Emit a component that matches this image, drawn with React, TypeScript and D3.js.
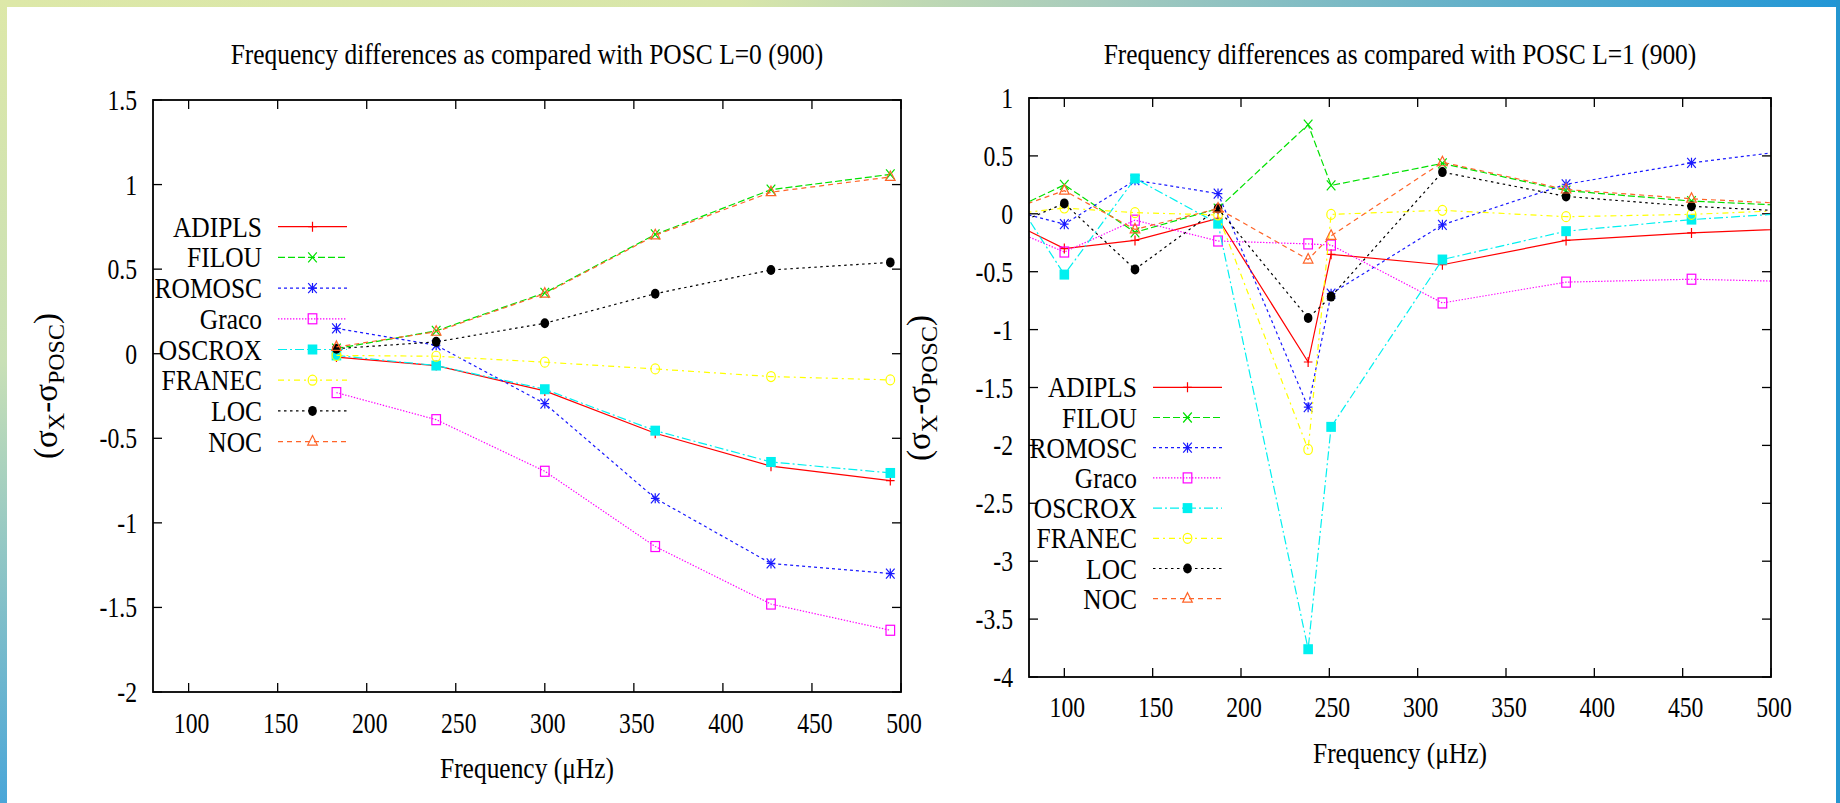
import React from 'react';
import * as d3 from 'd3';

const W = 1840;
const H = 803;

// ---- data ----
const SERIES_NAMES = ['ADIPLS', 'FILOU', 'ROMOSC', 'Graco', 'OSCROX', 'FRANEC', 'LOC', 'NOC'];

// L=0 modes
const FREQ_L0 = [183, 239, 300, 362, 427, 494];
const ADIPLS_L0 = [-0.02, -0.07, -0.22, -0.47, -0.665, -0.75];
const FILOU_L0 = [0.03, 0.135, 0.36, 0.705, 0.97, 1.06];
const ROMOSC_L0 = [0.15, 0.05, -0.295, -0.855, -1.24, -1.3];
const GRACO_L0 = [-0.23, -0.39, -0.695, -1.14, -1.48, -1.635];
const OSCROX_L0 = [-0.01, -0.07, -0.21, -0.455, -0.64, -0.705];
const FRANEC_L0 = [-0.01, -0.015, -0.05, -0.09, -0.135, -0.155];
const LOC_L0 = [0.03, 0.07, 0.18, 0.355, 0.495, 0.54];
const NOC_L0 = [0.04, 0.13, 0.355, 0.7, 0.955, 1.045];

// L=1 modes
const FREQ_L1 = [60, 100, 140, 187, 238, 251, 314, 384, 455, 526];
const ADIPLS_L1 = [0.0, -0.3, -0.23, -0.04, -1.28, -0.35, -0.44, -0.23, -0.165, -0.12];
const FILOU_L1 = [-0.04, 0.25, -0.16, 0.045, 0.77, 0.245, 0.435, 0.2, 0.11, 0.06];
const ROMOSC_L1 = [0.07, -0.09, 0.29, 0.175, -1.67, -0.69, -0.095, 0.255, 0.44, 0.575];
const GRACO_L1 = [-0.07, -0.33, -0.055, -0.235, -0.26, -0.27, -0.77, -0.59, -0.565, -0.59];
const OSCROX_L1 = [0.42, -0.525, 0.305, -0.085, -3.76, -1.84, -0.395, -0.15, -0.05, 0.02];
const FRANEC_L1 = [-0.02, 0.05, 0.01, -0.01, -2.035, -0.005, 0.03, -0.025, -0.005, 0.04];
const LOC_L1 = [-0.17, 0.09, -0.48, 0.045, -0.9, -0.715, 0.36, 0.15, 0.065, 0.01];
const NOC_L1 = [-0.015, 0.2, -0.135, 0.045, -0.395, -0.19, 0.445, 0.21, 0.13, 0.075];

const X_TICKS = [100, 150, 200, 250, 300, 350, 400, 450, 500];
const Y_TICKS_L0 = [-2, -1.5, -1, -0.5, 0, 0.5, 1, 1.5];
const Y_TICKS_L1 = [-4, -3.5, -3, -2.5, -2, -1.5, -1, -0.5, 0, 0.5, 1];

const TITLE_L0 = 'Frequency differences as compared with POSC L=0 (900)';
const TITLE_L1 = 'Frequency differences as compared with POSC L=1 (900)';
const X_LABEL = 'Frequency (\u03bcHz)';

// ---- styles per series ----
type MarkerKind = 'plus' | 'cross' | 'star' | 'square' | 'fsquare' | 'circle' | 'fcircle' | 'triangle';
const STYLES: { color: string; dash: string | undefined; marker: MarkerKind }[] = [
  { color: '#ff0000', dash: undefined, marker: 'plus' },
  { color: '#00e000', dash: '7,3', marker: 'cross' },
  { color: '#1a1aff', dash: '3,3', marker: 'star' },
  { color: '#ff00ff', dash: '1.4,1.6', marker: 'square' },
  { color: '#00f0f0', dash: '9,3,2,3', marker: 'fsquare' },
  { color: '#ffff00', dash: '6,4,2,4', marker: 'circle' },
  { color: '#000000', dash: '2.5,3.5', marker: 'fcircle' },
  { color: '#ff6428', dash: '5,4', marker: 'triangle' },
];

const FONT = '"Liberation Serif", "Times New Roman", serif';
const TEXT_SX = 0.86;
const NUM_SX = 0.8;
const FS = 29.6;

function Txt(props: {
  x: number; y: number; anchor?: 'start' | 'middle' | 'end'; sx?: number; size?: number; children: React.ReactNode;
}) {
  const { x, y, anchor = 'start', sx = TEXT_SX, size = FS, children } = props;
  return (
    <text
      transform={`translate(${x},${y}) scale(${sx},1)`}
      textAnchor={anchor}
      fontFamily={FONT}
      fontSize={size}
      fill="#000"
    >
      {children}
    </text>
  );
}

function Marker({ kind, cx, cy, color }: { kind: MarkerKind; cx: number; cy: number; color: string }) {
  const sx = 4.3;
  const sy = 5;
  const sw = 1.2;
  switch (kind) {
    case 'plus':
      return <path d={`M${cx - sx},${cy}H${cx + sx}M${cx},${cy - sy}V${cy + sy}`} stroke={color} strokeWidth={sw} fill="none" />;
    case 'cross':
      return <path d={`M${cx - sx},${cy - sy}L${cx + sx},${cy + sy}M${cx - sx},${cy + sy}L${cx + sx},${cy - sy}`} stroke={color} strokeWidth={sw} fill="none" />;
    case 'star':
      return (
        <path
          d={`M${cx - sx},${cy}H${cx + sx}M${cx},${cy - sy}V${cy + sy}M${cx - sx},${cy - sy}L${cx + sx},${cy + sy}M${cx - sx},${cy + sy}L${cx + sx},${cy - sy}`}
          stroke={color} strokeWidth={sw} fill="none"
        />
      );
    case 'square':
      return <rect x={cx - sx} y={cy - sy} width={2 * sx} height={2 * sy} stroke={color} strokeWidth={sw} fill="none" />;
    case 'fsquare':
      return <rect x={cx - sx - 0.5} y={cy - sy} width={2 * sx + 1} height={2 * sy} fill={color} />;
    case 'circle':
      return <ellipse cx={cx} cy={cy} rx={sx} ry={sy} stroke={color} strokeWidth={sw} fill="none" />;
    case 'fcircle':
      return <ellipse cx={cx} cy={cy} rx={sx} ry={sy} fill={color} />;
    case 'triangle':
      return <path d={`M${cx},${cy - sy - 1}L${cx + sx + 0.5},${cy + sy * 0.7}L${cx - sx - 0.5},${cy + sy * 0.7}Z`} stroke={color} strokeWidth={sw} fill="none" />;
  }
  return null;
}

type PanelProps = {
  id: string;
  title: string;
  freq: number[];
  series: number[][];
  yDomain: [number, number];
  yTicks: number[];
  box: { x0: number; x1: number; y0: number; y1: number };
  legend: { labelX: number; lineX0: number; lineX1: number; y0: number; step: number };
  xTickGap: number;
  xLabelY: number;
  yLabelX: number;
  yLabelY: number;
};

function Panel(p: PanelProps) {
  const { box } = p;
  const x = d3.scaleLinear().domain([80, 500]).range([box.x0, box.x1]);
  const y = d3.scaleLinear().domain(p.yDomain).range([box.y1, box.y0]);
  const line = d3
    .line<number>()
    .x((_, i) => x(p.freq[i]))
    .y((d) => y(d));
  const tick = 9;
  const cx = (box.x0 + box.x1) / 2;
  const clipId = `clip-${p.id}`;
  const fmt = (v: number) => String(v);

  return (
    <g>
      <defs>
        <clipPath id={clipId}>
          <rect x={box.x0} y={box.y0} width={box.x1 - box.x0} height={box.y1 - box.y0} />
        </clipPath>
      </defs>

      <Txt x={cx} y={64} anchor="middle">{p.title}</Txt>

      {/* ticks (mirrored on all four sides) */}
      <g stroke="#000" strokeWidth={1.3}>
        {X_TICKS.map((t) => (
          <g key={`xt${t}`}>
            <line x1={x(t)} x2={x(t)} y1={box.y1} y2={box.y1 - tick} />
            <line x1={x(t)} x2={x(t)} y1={box.y0} y2={box.y0 + tick} />
          </g>
        ))}
        {p.yTicks.map((t) => (
          <g key={`yt${t}`}>
            <line x1={box.x0} x2={box.x0 + tick} y1={y(t)} y2={y(t)} />
            <line x1={box.x1} x2={box.x1 - tick} y1={y(t)} y2={y(t)} />
          </g>
        ))}
      </g>

      {X_TICKS.map((t) => (
        <Txt key={`xl${t}`} x={x(t) + 3} y={box.y1 + p.xTickGap} anchor="middle" sx={NUM_SX}>
          {fmt(t)}
        </Txt>
      ))}
      {p.yTicks.map((t) => (
        <Txt key={`yl${t}`} x={box.x0 - 16} y={y(t) + 10} anchor="end" sx={NUM_SX}>
          {fmt(t)}
        </Txt>
      ))}

      <Txt x={cx} y={p.xLabelY} anchor="middle">{X_LABEL}</Txt>

      <text
        transform={`translate(${p.yLabelX},${p.yLabelY}) rotate(-90)`}
        textAnchor="middle"
        fontFamily={FONT}
        fontSize={33}
        fill="#000"
      >
        (σ<tspan dy={7} fontSize={24}>X</tspan>
        <tspan dy={-7}>-σ</tspan>
        <tspan dy={7} fontSize={24}>POSC</tspan>
        <tspan dy={-7}>)</tspan>
      </text>

      {/* legend */}
      {SERIES_NAMES.map((name, i) => {
        const st = STYLES[i];
        const ry = p.legend.y0 + i * p.legend.step;
        const mx = (p.legend.lineX0 + p.legend.lineX1) / 2;
        return (
          <g key={`lg${name}`}>
            <Txt x={p.legend.labelX} y={ry + 10} anchor="end">{name}</Txt>
            <line
              x1={p.legend.lineX0} x2={p.legend.lineX1} y1={ry} y2={ry}
              stroke={st.color} strokeWidth={1.2} strokeDasharray={st.dash}
            />
            <Marker kind={st.marker} cx={mx} cy={ry} color={st.color} />
          </g>
        );
      })}

      {/* data */}
      <g clipPath={`url(#${clipId})`}>
        {p.series.map((vals, i) => {
          const st = STYLES[i];
          return (
            <g key={`s${i}`}>
              <path d={line(vals) || ''} fill="none" stroke={st.color} strokeWidth={1.2} strokeDasharray={st.dash} />
              {vals.map((v, j) => (
                <Marker key={j} kind={st.marker} cx={x(p.freq[j])} cy={y(v)} color={st.color} />
              ))}
            </g>
          );
        })}
      </g>

      <rect x={box.x0} y={box.y0} width={box.x1 - box.x0} height={box.y1 - box.y0} fill="none" stroke="#000" strokeWidth={1.8} />
    </g>
  );
}

export default function App() {
  return (
    <div style={{ position: 'absolute', left: 0, top: 0 }}>
      <svg width={W} height={H} viewBox={`0 0 ${W} ${H}`} style={{ display: 'block' }}>
        <defs>
          <linearGradient id="topBand" x1="0" x2="1" y1="0" y2="0">
            <stop offset="0" stopColor="#dde8a8" />
            <stop offset="0.4" stopColor="#d8e6aa" />
            <stop offset="0.6" stopColor="#a6cbbd" />
            <stop offset="1" stopColor="#2196d6" />
          </linearGradient>
          <linearGradient id="leftBand" x1="0" x2="0" y1="0" y2="1">
            <stop offset="0" stopColor="#dde8a8" />
            <stop offset="0.45" stopColor="#c9e0b6" />
            <stop offset="1" stopColor="#4aa6d8" />
          </linearGradient>
        </defs>
        <rect x={0} y={0} width={W} height={H} fill="#fff" />
        <rect x={0} y={0} width={W} height={7} fill="url(#topBand)" />
        <rect x={0} y={0} width={7} height={H} fill="url(#leftBand)" />
        <rect x={1836} y={0} width={4} height={H} fill="#2496d0" />

        <Panel
          id="l0"
          title={TITLE_L0}
          freq={FREQ_L0}
          series={[ADIPLS_L0, FILOU_L0, ROMOSC_L0, GRACO_L0, OSCROX_L0, FRANEC_L0, LOC_L0, NOC_L0]}
          yDomain={[-2, 1.5]}
          yTicks={Y_TICKS_L0}
          box={{ x0: 153, x1: 901, y0: 100, y1: 692 }}
          legend={{ labelX: 262, lineX0: 278, lineX1: 347, y0: 226.7, step: 30.7 }}
          xTickGap={41}
          xLabelY={778}
          yLabelX={57}
          yLabelY={386}
        />
        <Panel
          id="l1"
          title={TITLE_L1}
          freq={FREQ_L1}
          series={[ADIPLS_L1, FILOU_L1, ROMOSC_L1, GRACO_L1, OSCROX_L1, FRANEC_L1, LOC_L1, NOC_L1]}
          yDomain={[-4, 1]}
          yTicks={Y_TICKS_L1}
          box={{ x0: 1029, x1: 1771, y0: 98, y1: 677 }}
          legend={{ labelX: 1137, lineX0: 1153, lineX1: 1222, y0: 387.3, step: 30.2 }}
          xTickGap={40}
          xLabelY={762.5}
          yLabelX={930}
          yLabelY={388}
        />
      </svg>
    </div>
  );
}
